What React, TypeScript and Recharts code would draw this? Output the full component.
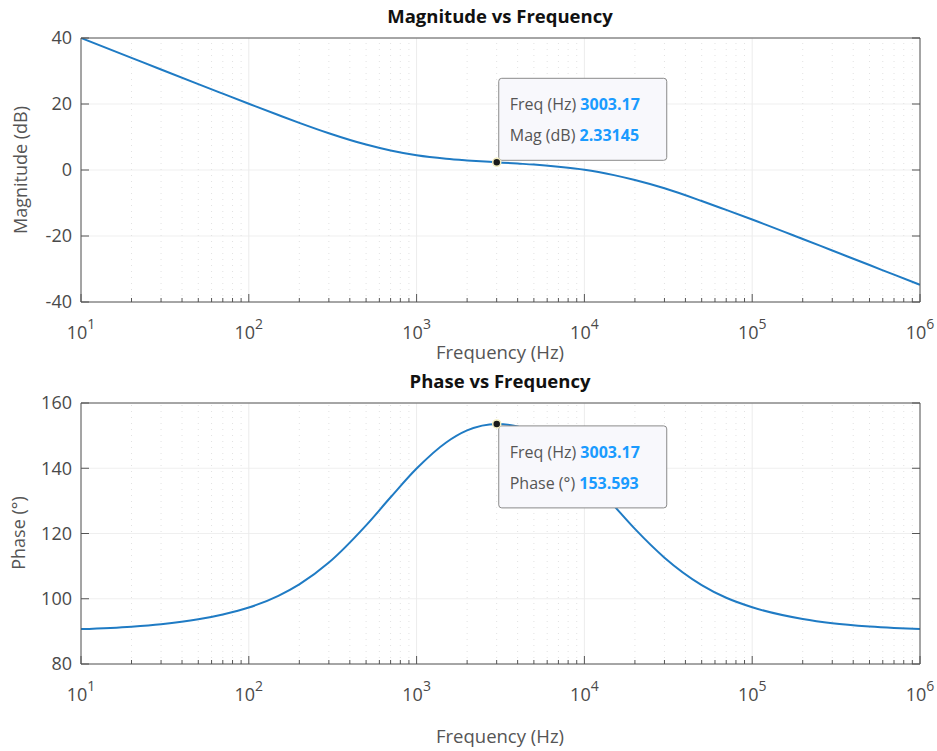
import React from "react";
import {
  CartesianGrid,
  Line,
  LineChart,
  ReferenceDot,
  ReferenceLine,
  XAxis,
  YAxis,
} from "recharts";

// Bode response samples (Hz, dB, degrees)
const freqHz = [
  10, 20, 30, 50, 70, 100, 150, 200, 300, 500, 700, 1000, 1500, 2000, 3003.17,
  4000, 5000, 7000, 10000, 15000, 20000, 30000, 50000, 70000, 100000, 200000,
  300000, 500000, 700000, 1000000,
];
const magnitudeDb = [
  40.0, 33.98, 30.46, 26.04, 23.14, 20.07, 16.66, 14.29, 11.14, 7.7, 5.9, 4.45,
  3.4, 2.9, 2.33145, 1.95, 1.65, 1.0, 0.1, -1.55, -3.05, -5.55, -9.4, -12.1,
  -15.0, -20.9, -24.4, -28.8, -31.72, -34.8,
];
const phaseDeg = [
  90.7, 91.45, 92.2, 93.7, 95.2, 97.3, 100.9, 104.4, 111.1, 122.5, 131.1, 139.9,
  147.9, 151.6, 153.593, 152.8, 150.9, 146.0, 138.6, 128.5, 121.4, 112.6, 104.2,
  100.3, 97.4, 93.8, 92.5, 91.5, 91.05, 90.7,
];

// index of the sample shown in the data tip
const markerIndex = 14;

const decadeTicks = [10, 100, 1000, 10000, 100000, 1000000];
const minorSteps = [2, 3, 4, 5, 6, 7, 8, 9];
const minorTicks = decadeTicks.slice(0, -1).flatMap((d) => minorSteps.map((m) => d * m));
const allFreqTicks = [...decadeTicks, ...minorTicks].sort((a, b) => a - b);

const magTicks = [-40, -20, 0, 20, 40];
const phaseTicks = [80, 100, 120, 140, 160];

const rows = freqHz.map((f, i) => ({ f, mag: magnitudeDb[i], phase: phaseDeg[i] }));

const FONT = "'Open Sans', 'DejaVu Sans', sans-serif";
const AXIS = "#555";
const LINE = "#1f7bc4";
const VALUE = "#1a9bff";
const TICK_TEXT = "#4a4a4a";

function BottomTick({ x, y, payload }: any) {
  const major = decadeTicks.includes(payload.value);
  const exp = Math.round(Math.log10(payload.value));
  return (
    <g>
      <line x1={x} x2={x} y1={y} y2={y - (major ? 8 : 4)} stroke={AXIS} />
      {major && (
        <text x={x} y={y + 37} textAnchor="middle" fontFamily={FONT} fontSize={18} fill={TICK_TEXT}>
          10
          <tspan dy={-10} fontSize={14}>
            {exp}
          </tspan>
        </text>
      )}
    </g>
  );
}

function TopTick({ x, y, payload }: any) {
  const major = decadeTicks.includes(payload.value);
  return <line x1={x} x2={x} y1={y} y2={y + (major ? 8 : 4)} stroke={AXIS} />;
}

function LeftTick({ x, y, payload }: any) {
  return (
    <g>
      <line x1={x} x2={x + 8} y1={y} y2={y} stroke={AXIS} />
      <text
        x={x - 9}
        y={y}
        dy="0.35em"
        textAnchor="end"
        fontFamily={FONT}
        fontSize={18}
        fill={TICK_TEXT}
      >
        {payload.value}
      </text>
    </g>
  );
}

function RightTick({ x, y }: any) {
  return <line x1={x} x2={x - 8} y1={y} y2={y} stroke={AXIS} />;
}

function makeReadout(label: string, value: number, below: boolean) {
  return function Readout({ cx, cy }: any) {
    const w = 168;
    const h = 82;
    const bx = cx + 2;
    const by = below ? cy + 2 : cy - h - 2;
    return (
      <g>
        <rect x={bx} y={by} width={w} height={h} rx={3} fill="#f8f8fc" stroke="#8a8a8a" />
        <text x={bx + 11} y={by + 26} dy="0.35em" fontFamily={FONT} fontSize={16} fill="#555">
          Freq (Hz){" "}
          <tspan fill={VALUE} fontWeight="bold">
            {freqHz[markerIndex]}
          </tspan>
        </text>
        <text x={bx + 11} y={by + 57} dy="0.35em" fontFamily={FONT} fontSize={16} fill="#555">
          {label}{" "}
          <tspan fill={VALUE} fontWeight="bold">
            {value}
          </tspan>
        </text>
        <circle cx={cx} cy={cy} r={4} fill="#1a1a1a" stroke="#f3eec0" strokeWidth={1.5} />
      </g>
    );
  };
}

interface PanelProps {
  top: number;
  height: number;
  margin: { top: number; right: number; bottom: number; left: number };
  dataKey: "mag" | "phase";
  yTicks: number[];
  readoutLabel: string;
  readoutBelow: boolean;
}

function Panel({ top, height, margin, dataKey, yTicks, readoutLabel, readoutBelow }: PanelProps) {
  const domain: [number, number] = [yTicks[0], yTicks[yTicks.length - 1]];
  const value = dataKey === "mag" ? magnitudeDb[markerIndex] : phaseDeg[markerIndex];
  return (
    <div style={{ position: "absolute", left: 0, top }}>
      <LineChart width={937} height={height} data={rows} margin={margin}>
        <CartesianGrid vertical={false} stroke="#efefef" />
        {minorTicks.map((f) => (
          <ReferenceLine key={`m${f}`} x={f} stroke="#e2e2e2" strokeDasharray="1 5" />
        ))}
        {decadeTicks.map((f) => (
          <ReferenceLine key={`d${f}`} x={f} stroke="#ececec" />
        ))}
        <XAxis
          dataKey="f"
          type="number"
          scale="log"
          domain={[10, 1000000]}
          allowDataOverflow
          ticks={allFreqTicks}
          interval={0}
          tick={<BottomTick />}
          tickLine={false}
          tickSize={0}
          tickMargin={0}
          height={30}
          axisLine={{ stroke: AXIS }}
        />
        <XAxis
          xAxisId="top"
          orientation="top"
          type="number"
          scale="log"
          domain={[10, 1000000]}
          allowDataOverflow
          ticks={allFreqTicks}
          interval={0}
          tick={<TopTick />}
          tickLine={false}
          tickSize={0}
          tickMargin={0}
          height={10}
          axisLine={{ stroke: AXIS }}
        />
        <YAxis
          type="number"
          domain={domain}
          allowDataOverflow
          ticks={yTicks}
          interval={0}
          tick={<LeftTick />}
          tickLine={false}
          tickSize={0}
          tickMargin={0}
          width={60}
          axisLine={{ stroke: AXIS }}
        />
        <YAxis
          yAxisId="right"
          orientation="right"
          type="number"
          domain={domain}
          allowDataOverflow
          ticks={yTicks}
          interval={0}
          tick={<RightTick />}
          tickLine={false}
          tickSize={0}
          tickMargin={0}
          width={10}
          axisLine={{ stroke: AXIS }}
        />
        <Line
          type="monotone"
          dataKey={dataKey}
          stroke={LINE}
          strokeWidth={2}
          dot={false}
          activeDot={false}
          isAnimationActive={false}
        />
        <ReferenceDot
          x={freqHz[markerIndex]}
          y={value}
          ifOverflow="visible"
          shape={makeReadout(readoutLabel, value, readoutBelow)}
        />
      </LineChart>
    </div>
  );
}

function Caption({ x, y, text, bold, rotate, size, color }: any) {
  return (
    <div
      style={{
        position: "absolute",
        left: x,
        top: y,
        transform: `translate(-50%, -50%)${rotate ? " rotate(-90deg)" : ""}`,
        whiteSpace: "nowrap",
        lineHeight: 1,
        fontFamily: FONT,
        fontSize: size,
        fontWeight: bold ? 700 : 400,
        color,
      }}
    >
      {text}
    </div>
  );
}

export default function App() {
  return (
    <div
      style={{
        position: "absolute",
        left: 0,
        top: 0,
        width: 937,
        height: 751,
        background: "#fff",
        overflow: "hidden",
      }}
    >
      <Panel
        top={0}
        height={375}
        margin={{ top: 28, right: 7, bottom: 43, left: 21 }}
        dataKey="mag"
        yTicks={magTicks}
        readoutLabel="Mag (dB)"
        readoutBelow={false}
      />
      <Panel
        top={375}
        height={376}
        margin={{ top: 18, right: 7, bottom: 57, left: 21 }}
        dataKey="phase"
        yTicks={phaseTicks}
        readoutLabel="Phase (°)"
        readoutBelow={true}
      />
      <Caption x={500} y={16} text="Magnitude vs Frequency" bold size={18.5} color="#111" />
      <Caption x={500} y={381} text="Phase vs Frequency" bold size={18.5} color="#111" />
      <Caption x={500} y={352} text="Frequency (Hz)" size={18.5} color="#555" />
      <Caption x={500} y={736} text="Frequency (Hz)" size={18.5} color="#555" />
      <Caption x={20} y={170} text="Magnitude (dB)" rotate size={18} color="#555" />
      <Caption x={18} y={533} text="Phase (°)" rotate size={18} color="#555" />
    </div>
  );
}
